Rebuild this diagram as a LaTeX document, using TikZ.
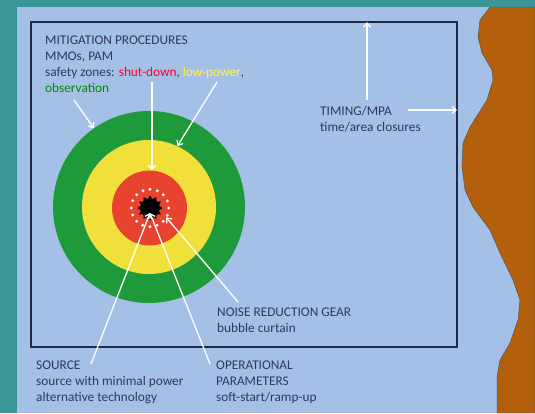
\documentclass[tikz,border=0pt]{standalone}
\usepackage{fontspec}
\setmainfont{Carlito}
\usepackage{tikz}
\definecolor{colorBG}{HTML}{3A9697}
\definecolor{colorSEA}{HTML}{A4C0E6}
\definecolor{colorLAND}{HTML}{B35F0C}
\definecolor{colorFRAME}{HTML}{1F2A48}
\definecolor{colorTXT}{HTML}{2E3A5C}
\definecolor{colorOBS}{HTML}{1F9A3A}
\definecolor{colorLOW}{HTML}{F2E03A}
\definecolor{colorSHUT}{HTML}{E8432E}
\colorlet{colorSHUTT}{red!80!magenta}
\colorlet{colorLOWT}{yellow!75!white}
\colorlet{colorOBST}{green!55!black}
\usetikzlibrary{arrows.meta}
\usetikzlibrary{shapes.geometric}
\tikzset{
   every path/.style={>={Straight Barb[length=4pt,width=7pt]}},
   lbl/.style={anchor=base west,align=left,inner sep=0pt,text=colorTXT,
      font=\fontsize{13.3}{15.8}\selectfont},
   zone/.style={circle,fill=#1,inner sep=0pt},
   arr/.style={->,draw=white,line width=1.3pt},
   dot/.style={circle,fill=white,inner sep=0pt,minimum size=3.2pt},
}

\begin{document}
\begin{tikzpicture}[x=1pt,y=-1pt]

        \useasboundingbox (0,0) rectangle (535,413);

        % background, sea and coast
        \fill[colorBG] (0,0) rectangle (535,413);
        \fill[colorSEA] (17,7) rectangle (535,413);
        \fill[colorLAND,draw=black!70,thin] (490,7) -- (480,20) -- (478,37) -- (482,53)
          -- (492,70) -- (493,80) -- (487,100) -- (470,127) -- (463,143) -- (462,167)
          -- (465,190) -- (473,207) -- (490,230) -- (500,253) -- (513,280) -- (520,300)
          -- (518,320) -- (510,343) -- (500,360) -- (497,377) -- (497,413)
          -- (535,413) -- (535,7) -- cycle;
        \draw[colorFRAME,line width=1.2pt] (31,22) rectangle (457,347);

        % safety zones
        \node[zone=colorOBS,minimum size=192pt] (obs) at (149,207) {};
        \node[zone=colorLOW,minimum size=134pt] (low) at (149,207) {};
        \node[zone=colorSHUT,minimum size=75pt] (shut) at (149.5,208) {};
        \node[star,star points=12,star point ratio=1.35,fill=black,inner sep=0pt,
          minimum size=25pt] (src) at (150,208) {};
        \node[circle,minimum size=37pt,inner sep=0pt] (ring) at (150,208) {};
        \foreach \a in {0,22.5,...,337.5}
          \node[dot] at (ring.\a) {};

        % labels (anchored at the baseline of their last line)
        \node[lbl] (mit) at (45,92) {MITIGATION PROCEDURES\\MMOs, PAM\\
          safety zones: \textcolor{colorSHUTT}{shut-down}, \textcolor{colorLOWT}{low-power},\\
          \textcolor{colorOBST}{observation}};
        \node[lbl] (tim) at (320,131) {TIMING/MPA\\time/area closures};
        \node[lbl] (nrg) at (217,332) {NOISE REDUCTION GEAR\\bubble curtain};
        \node[lbl] (sou) at (36,401) {SOURCE\\source with minimal power\\alternative technology};
        \node[lbl] (ope) at (216,401) {OPERATIONAL\\PARAMETERS\\soft-start/ramp-up};

        % connectors
        \coordinate (obsT) at (74,100);
        \coordinate (shutT) at (152,82);
        \coordinate (lowT) at (217,82);
        \coordinate (timT) at (367,100);
        \coordinate (timF) at (367,22);
        \coordinate (cloT) at (408,110);
        \coordinate (cloF) at (457,110);
        \coordinate (nrgT) at (238,302);
        \coordinate (souT) at (91,364);
        \coordinate (opeT) at (210,364);
        \coordinate (ctr) at (150,213);

        \draw[arr] (obsT) -- (obs.125);
        \draw[arr] (shutT) -- (shut.north -| shutT);
        \draw[arr] (lowT) -- (low.65);
        \draw[arr] (timT) -- (timF);
        \draw[arr] (cloT) -- (cloF);
        \draw[arr] (nrgT) -- (ring.-30);
        \draw[arr] (souT) -- (ctr);
        \draw[arr] (opeT) -- (ctr);

      \end{tikzpicture}
\end{document}
